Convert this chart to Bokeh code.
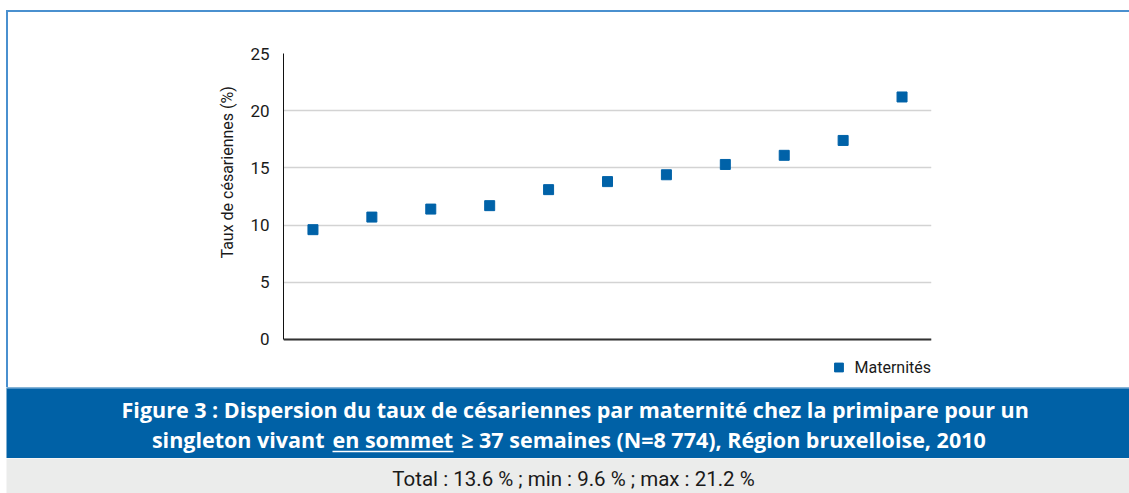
from bokeh.plotting import figure
from bokeh.models import Range1d, FixedTicker, Legend, LegendItem, Div
from bokeh.layouts import column, row
from bokeh.embed import file_html
from bokeh.resources import INLINE
from bokeh.core.properties import value

# ---- data ----
maternites = [1, 2, 3, 4, 5, 6, 7, 8, 9, 10, 11]
taux = [9.6, 10.7, 11.4, 11.7, 13.1, 13.8, 14.4, 15.3, 16.1, 17.4, 21.2]
y_ticks = [0, 5, 10, 15, 20, 25]
y_label = "Taux de césariennes (%)"
series_name = "Maternités"
caption1 = "Figure 3 : Dispersion du taux de césariennes par maternité chez la primipare pour un"
caption2_pre = "singleton vivant"
caption2_ul = "en sommet"
caption2_post = "≥ 37 semaines (N=8 774), Région bruxelloise, 2010"
summary = "Total : 13.6 % ; min : 9.6 % ; max : 21.2 %"

# ---- styles ----
NARROW = "Roboto"
CAP_FONT = "Open Sans"
BAND_BLUE = "#0061a6"
LINE_BLUE = "#4a90cf"
POINT_BLUE = "#0062a8"
GREY_BAND = "#ebeceb"
TXT = "#1a1a1a"

# ---- main chart ----
# frame extends below the zero line to host the legend; y axis is bounded to 0..25
p = figure(width=1121, height=375, x_range=Range1d(0.5, 11.5), y_range=Range1d(-3.41, 25),
           output_backend="svg", toolbar_location=None,
           min_border_left=275, min_border_right=198, min_border_top=41, min_border_bottom=9)
p.outline_line_color = None
p.background_fill_color = "white"
p.border_fill_color = "white"
p.xgrid.visible = False
p.ygrid.ticker = FixedTicker(ticks=y_ticks)
p.ygrid.grid_line_color = "#d3d3d3"
p.ygrid.grid_line_width = 1.5

p.yaxis.ticker = FixedTicker(ticks=y_ticks)
p.yaxis.bounds = (0, 25)
p.yaxis.axis_line_color = "#111111"
p.yaxis.axis_line_width = 1
p.yaxis.major_tick_line_color = None
p.yaxis.minor_tick_line_color = None
p.yaxis.major_label_standoff = 8
p.yaxis.major_label_text_font = NARROW
p.yaxis.major_label_text_font_size = "17px"
p.yaxis.major_label_text_color = TXT
p.yaxis.axis_label = "\u00a0" * 22 + y_label
p.yaxis.axis_label_text_font = NARROW
p.yaxis.axis_label_text_font_size = "16px"
p.yaxis.axis_label_text_font_style = "normal"
p.yaxis.axis_label_text_color = TXT
p.yaxis.axis_label_standoff = 10

p.xaxis.fixed_location = 0
p.xaxis.ticker = FixedTicker(ticks=[])
p.xaxis.axis_line_color = "#333333"
p.xaxis.axis_line_width = 2
p.xaxis.major_tick_line_color = None
p.xaxis.minor_tick_line_color = None
p.xaxis.major_label_text_color = None

r = p.scatter(maternites, taux, marker="square", size=10,
              fill_color=POINT_BLUE, line_color=POINT_BLUE)

legend = Legend(items=[LegendItem(label=series_name, renderers=[r])],
                location="bottom_right", orientation="horizontal",
                border_line_color=None, background_fill_alpha=0,
                margin=0, padding=0, spacing=0,
                label_text_font=NARROW, label_text_font_size="16px",
                label_text_color=TXT,
                glyph_width=22, glyph_height=22, label_standoff=5)
p.add_layout(legend)

# ---- caption band ----
b = figure(width=1123, height=71, x_range=Range1d(6, 1129), y_range=Range1d(0, 71),
           output_backend="svg", toolbar_location=None, min_border=0,
           x_axis_type=None, y_axis_type=None)
b.background_fill_color = BAND_BLUE
b.border_fill_color = BAND_BLUE
b.outline_line_color = None
b.grid.visible = False
cap_kw = dict(text_color="white", text_font=value(CAP_FONT), text_font_style="bold",
              text_font_size="21.5px", text_baseline="alphabetic")
b.text(x=[574.7], y=[49], text=[caption1], text_align="center", **cap_kw)
b.text(x=[324], y=[19], text=[caption2_pre], text_align="right", **cap_kw)
b.text(x=[332], y=[19], text=[caption2_ul], text_align="left", **cap_kw)
b.text(x=[460.7], y=[19], text=[caption2_post], text_align="left", **cap_kw)
b.segment(x0=[332], y0=[7], x1=[453], y1=[7], line_color="white", line_width=1.5)
b.segment(x0=[6], y0=[70.5], x1=[1129], y1=[70.5], line_color="#9cc2e4", line_width=1)

# ---- summary band ----
g = figure(width=1123, height=35, x_range=Range1d(6, 1129), y_range=Range1d(0, 35),
           output_backend="svg", toolbar_location=None, min_border=0,
           x_axis_type=None, y_axis_type=None)
g.background_fill_color = GREY_BAND
g.border_fill_color = GREY_BAND
g.outline_line_color = None
g.grid.visible = False
g.text(x=[573], y=[15], text=[summary], text_align="center", text_baseline="alphabetic",
       text_color=TXT, text_font=value(NARROW), text_font_size="20.5px")

# ---- frame lines and spacers ----
top_space = Div(text="", width=1129, height=10, margin=0)
top_line = row(Div(text="", width=6, height=2, margin=0),
               Div(text="", width=1123, height=2, margin=0, styles={"background-color": LINE_BLUE}),
               spacing=0)
left_space = Div(text="", width=6, height=375, margin=0)
left_line = Div(text="", width=2, height=375, margin=0, styles={"background-color": LINE_BLUE})

layout = column(top_space, top_line,
                row(left_space, left_line, p, spacing=0),
                row(Div(text="", width=6, height=71, margin=0), b, spacing=0),
                row(Div(text="", width=6, height=35, margin=0), g, spacing=0),
                spacing=0)

open("out.html", "w").write(file_html(layout, INLINE))
